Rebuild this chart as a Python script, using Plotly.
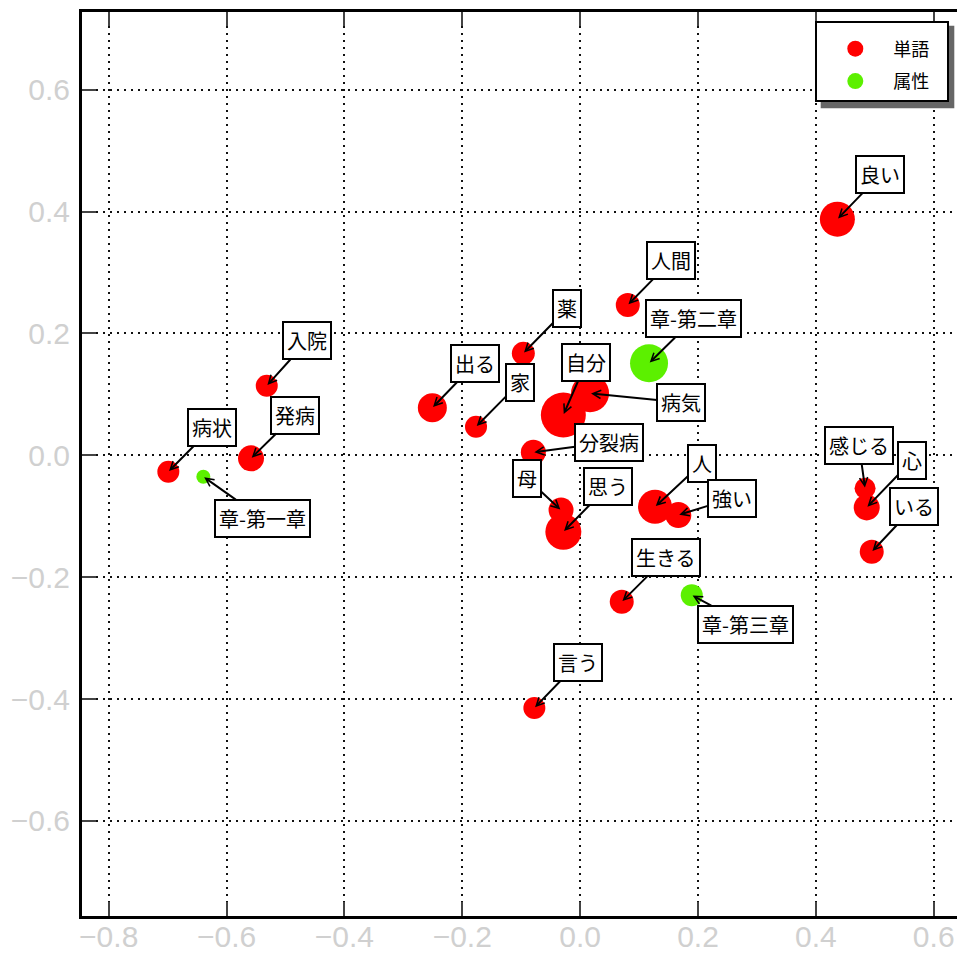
import plotly.graph_objects as go

# ---- data ----
words = ["良い", "人間", "薬", "出る", "家", "自分", "病気", "分裂病", "母", "思う",
         "人", "強い", "感じる", "心", "いる", "入院", "発病", "病状", "生きる", "言う"]
word_x = [0.4365, 0.0808, -0.0964, -0.2508, -0.1767, -0.0285, 0.0168, -0.0794, -0.0324, -0.0285,
          0.1271, 0.1666, 0.4835, 0.4863, 0.4948, -0.5318, -0.5585, -0.6988, 0.0706, -0.0777]
word_y = [0.3876, 0.2468, 0.1675, 0.0782, 0.0470, 0.0662, 0.1018, 0.0049, -0.0898, -0.1255,
          -0.0844, -0.0980, -0.0542, -0.0854, -0.1583, 0.1143, -0.0049, -0.0269, -0.2404, -0.4145]
word_weight = [35, 24, 23, 29, 22, 45, 38, 25, 25, 36,
               34, 26, 21, 26, 24, 22, 26, 22, 24, 22]

attrs = ["章-第一章", "章-第二章", "章-第三章"]
attr_x = [-0.6394, 0.1169, 0.1894]
attr_y = [-0.0351, 0.1511, -0.2294]
attr_weight = [14, 38, 22]

# label offsets (data units) from each point to its text box
word_label_dx = [0.073, 0.0735, 0.074, 0.073, 0.0747, 0.039, 0.1544, 0.1284, -0.0582, 0.075,
                 0.0798, 0.0907, -0.0102, 0.0764, 0.0718, 0.0684, 0.0747, 0.0742, 0.0752, 0.0741]
word_label_dy = [0.0732, 0.0723, 0.0733, 0.0729, 0.0729, 0.087, -0.0151, 0.0169, 0.052, 0.0739,
                 0.0718, 0.0274, 0.0711, 0.0764, 0.0739, 0.0734, 0.0711, 0.0726, 0.0726, 0.0742]
attr_label_dx = [0.0996, 0.0759, 0.0913]
attr_label_dy = [-0.0679, 0.0727, -0.0477]

tick_vals_x = [-0.8, -0.6, -0.4, -0.2, 0.0, 0.2, 0.4, 0.6]
tick_vals_y = [-0.6, -0.4, -0.2, 0.0, 0.2, 0.4, 0.6]

CJK = "Noto Sans CJK JP"
LAT = "Liberation Sans, Arial, sans-serif"
RED = "#ff0000"
GREEN = "#5cf000"
NB = "\u00a0"

fig = go.Figure()
fig.add_trace(go.Scatter(
    x=word_x, y=word_y, mode="markers", name="単語" + NB * 3, legendgroup="w",
    marker=dict(size=word_weight, sizemode="diameter", color=RED, opacity=1, line=dict(width=0)),
    text=words, hoverinfo="text"))
fig.add_trace(go.Scatter(
    x=attr_x, y=attr_y, mode="markers", name="属性" + NB * 3, legendgroup="a",
    marker=dict(size=attr_weight, sizemode="diameter", color=GREEN, opacity=1, line=dict(width=0)),
    text=attrs, hoverinfo="text"))

annotations = []
def add_labels(names, xs, ys, dxs, dys):
    for n, x, y, dx, dy in zip(names, xs, ys, dxs, dys):
        annotations.append(dict(
            x=x, y=y, xref="x", yref="y",
            ax=x + dx, ay=y + dy, axref="x", ayref="y",
            text=n, showarrow=True, arrowhead=5, arrowsize=0.8, arrowwidth=2,
            arrowcolor="black", standoff=1,
            font=dict(family=CJK, size=20, color="black"),
            bgcolor="white", bordercolor="black", borderwidth=2, borderpad=3))

add_labels(words, word_x, word_y, word_label_dx, word_label_dy)
add_labels(attrs, attr_x, attr_y, attr_label_dx, attr_label_dy)

L, T, B = 82, 12, 37
W, H = 957, 953
pw = W - L
ph = H - T - B

# legend shadow (pixel box converted to paper coords)
lg_l, lg_r, lg_t, lg_b = 815.7, 949.3, 20.7, 103.3
def px2paper_x(p):
    return (p - L) / pw
def px2paper_y(p):
    return (H - B - p) / ph
shapes = [dict(type="rect", xref="paper", yref="paper",
               x0=px2paper_x(lg_l + 5), x1=px2paper_x(lg_r + 5),
               y0=px2paper_y(lg_b + 5), y1=px2paper_y(lg_t + 5),
               fillcolor="#666666", line=dict(width=0), layer="above")]

fig.update_layout(
    width=W, height=H,
    margin=dict(l=L, r=0, t=T, b=B, autoexpand=False),
    paper_bgcolor="white", plot_bgcolor="white",
    font=dict(family=LAT),
    showlegend=True,
    legend=dict(x=px2paper_x(lg_r), y=px2paper_y(lg_t), xanchor="right", yanchor="top",
                bgcolor="white", bordercolor="black", borderwidth=2,
                font=dict(family=CJK, size=18, color="black"),
                itemwidth=66, traceorder="grouped", tracegroupgap=6,
                title=dict(text=NB, font=dict(size=6))),
    annotations=annotations,
    shapes=shapes,
    hovermode="closest",
)

fig.update_xaxes(
    range=[-0.8453, 0.6395], tickvals=tick_vals_x,
    tickformat=".1f", automargin=False,
    showline=True, linecolor="black", linewidth=3, mirror="ticks",
    ticks="inside", ticklen=14, tickwidth=1.5, tickcolor="#444444",
    showgrid=True, gridcolor="#111111", gridwidth=1.5, griddash="2px,5px",
    zeroline=False,
    tickfont=dict(family=LAT, size=30, color="#d0d0d0"),
    ticklabelstandoff=-8,
)
fig.update_yaxes(
    range=[-0.7560, 0.7276], tickvals=tick_vals_y,
    tickformat=".1f", automargin=False,
    showline=True, linecolor="black", linewidth=3,
    ticks="inside", ticklen=14, tickwidth=1.5, tickcolor="#444444",
    showgrid=True, gridcolor="#111111", gridwidth=1.5, griddash="2px,5px",
    zeroline=False,
    tickfont=dict(family=LAT, size=30, color="#d0d0d0"),
    ticklabelstandoff=3,
)

fig.write_html("out.html",
               config={"displayModeBar": False},
               post_script="document.body.style.margin='0';document.body.style.overflow='hidden';")
